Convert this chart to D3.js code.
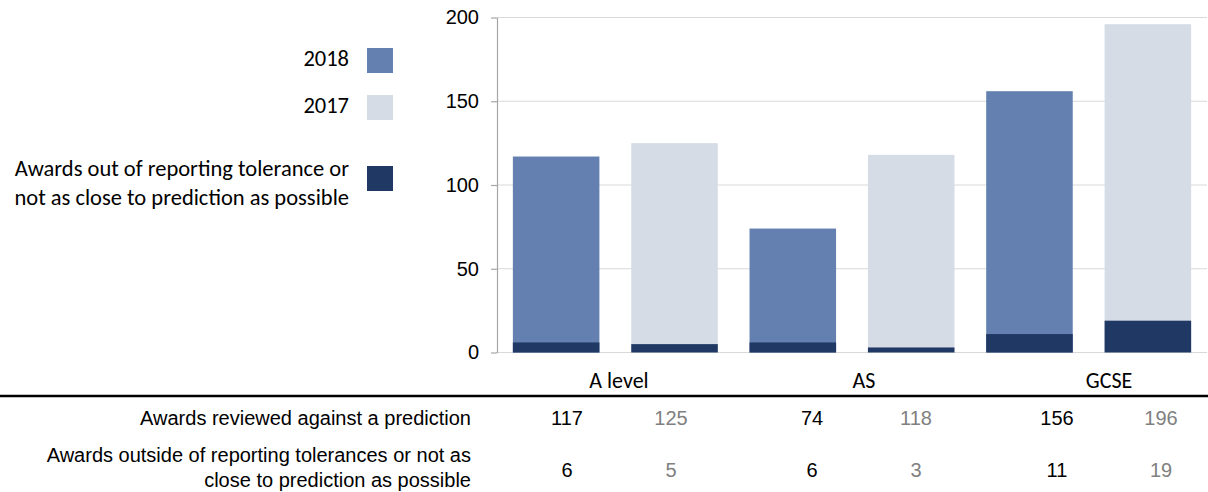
<!DOCTYPE html>
<html>
<head>
<meta charset="utf-8">
<script src="https://cdn.jsdelivr.net/npm/d3@7"></script>
<style>
  html, body { margin: 0; padding: 0; background: #fff; }
  svg { display: block; }
</style>
</head>
<body>
<svg id="chart" width="1208" height="492"></svg>
<script>
const categories = ["A level", "AS", "GCSE"];
const series = ["2018", "2017"];
const reviewed2018 = [117, 74, 156];
const reviewed2017 = [125, 118, 196];
const outside2018 = [6, 6, 11];
const outside2017 = [5, 3, 19];
const yTicks = [0, 50, 100, 150, 200];
const rowLabels = [
  ["Awards reviewed against a prediction"],
  ["Awards outside of reporting tolerances or not as", "close to prediction as possible"]
];
const legendItems = [
  { lines: ["2018"], key: "2018" },
  { lines: ["2017"], key: "2017" },
  { lines: ["Awards out of reporting tolerance or", "not as close to prediction as possible"], key: "outside" }
];

const colors = { "2018": "#6480b0", "2017": "#d6dce6", "outside": "#203864" };
const tableColors = { "2018": "#000000", "2017": "#808080" };

const reviewed = { "2018": reviewed2018, "2017": reviewed2017 };
const outside = { "2018": outside2018, "2017": outside2017 };

const svg = d3.select("#chart");
const axisFont = "'Liberation Sans', Arial, sans-serif";
const calFont = "Carlito, Calibri, Lato, 'Open Sans', sans-serif";

const plot = { left: 497, right: 1207, top: 17.5, bottom: 352.5 };

const x0 = d3.scaleBand().domain(categories).range([plot.left, plot.right]).padding(0);
const x1 = d3.scaleBand().domain(series).range([0, x0.bandwidth()]).paddingInner(0.269).paddingOuter(0.134);
const y = d3.scaleLinear().domain([0, 200]).range([plot.bottom, plot.top]);

// gridlines
svg.append("g").selectAll("line").data(yTicks).join("line")
  .attr("x1", plot.left).attr("x2", plot.right)
  .attr("y1", d => y(d)).attr("y2", d => y(d))
  .attr("stroke", "#d9d9d9").attr("stroke-width", 1.2);

// bars
const data = [];
categories.forEach((c, i) => series.forEach(s => data.push({ c, s, total: reviewed[s][i], out: outside[s][i] })));

svg.append("g").selectAll("rect").data(data).join("rect")
  .attr("x", d => x0(d.c) + x1(d.s))
  .attr("width", x1.bandwidth())
  .attr("y", d => y(d.total))
  .attr("height", d => y(0) - y(d.total))
  .attr("fill", d => colors[d.s]);

svg.append("g").selectAll("rect").data(data).join("rect")
  .attr("x", d => x0(d.c) + x1(d.s))
  .attr("width", x1.bandwidth())
  .attr("y", d => y(d.out))
  .attr("height", d => y(0) - y(d.out))
  .attr("fill", colors.outside);

// y axis
const yAxis = svg.append("g")
  .attr("transform", `translate(${plot.left},0)`)
  .call(d3.axisLeft(y).tickValues(yTicks).tickSize(6).tickPadding(12).tickSizeOuter(0));
yAxis.select(".domain").attr("stroke", "#a6a6a6").attr("stroke-width", 1.2);
yAxis.selectAll(".tick line").attr("stroke", "#a6a6a6").attr("stroke-width", 1.2);
yAxis.selectAll(".tick text").attr("font-family", axisFont).attr("font-size", 20).attr("fill", "#000");

// table columns scale
const tx = d3.scaleBand().domain(categories).range([496.5, 1231.5]);
const tsub = d3.scalePoint().domain(series).range([-52, 52]);

// category labels
svg.append("g").selectAll("text").data(categories).join("text")
  .attr("x", d => tx(d) + tx.bandwidth() / 2)
  .attr("y", 388)
  .attr("text-anchor", "middle")
  .attr("font-family", calFont).attr("font-size", 22).attr("fill", "#000")
  .text(d => d);

// separator line
svg.append("line").attr("x1", 0).attr("x2", 1208).attr("y1", 396).attr("y2", 396)
  .attr("stroke", "#000").attr("stroke-width", 2.5);

// row labels
const rowY = [[425], [462, 487]];
const rowNumY = [425, 477];
rowLabels.forEach((lines, r) => {
  svg.append("g").selectAll("text").data(lines).join("text")
    .attr("x", 471).attr("y", (d, i) => rowY[r][i])
    .attr("text-anchor", "end")
    .attr("font-family", axisFont).attr("font-size", 20).attr("fill", "#000")
    .text(d => d);
});

// table values
const rows = [reviewed, outside];
rows.forEach((row, r) => {
  const cells = [];
  categories.forEach((c, i) => series.forEach(s => cells.push({ c, s, v: row[s][i] })));
  svg.append("g").selectAll("text").data(cells).join("text")
    .attr("x", d => tx(d.c) + tx.bandwidth() / 2 + tsub(d.s))
    .attr("y", rowNumY[r])
    .attr("text-anchor", "middle")
    .attr("font-family", axisFont).attr("font-size", 20)
    .attr("fill", d => tableColors[d.s])
    .text(d => d.v);
});

// legend
const legendTextY = [[66], [113], [176, 205]];
const legendSwatchY = [48, 95, 166];
legendItems.forEach((item, i) => {
  const g = svg.append("g");
  g.append("rect").attr("x", 367).attr("y", legendSwatchY[i]).attr("width", 26).attr("height", 25)
    .attr("fill", colors[item.key]);
  g.selectAll("text").data(item.lines).join("text")
    .attr("x", 349).attr("y", (d, j) => legendTextY[i][j])
    .attr("text-anchor", "end")
    .attr("font-family", calFont).attr("font-size", 22.5).attr("fill", "#000")
    .text(d => d);
});
</script>
</body>
</html>
